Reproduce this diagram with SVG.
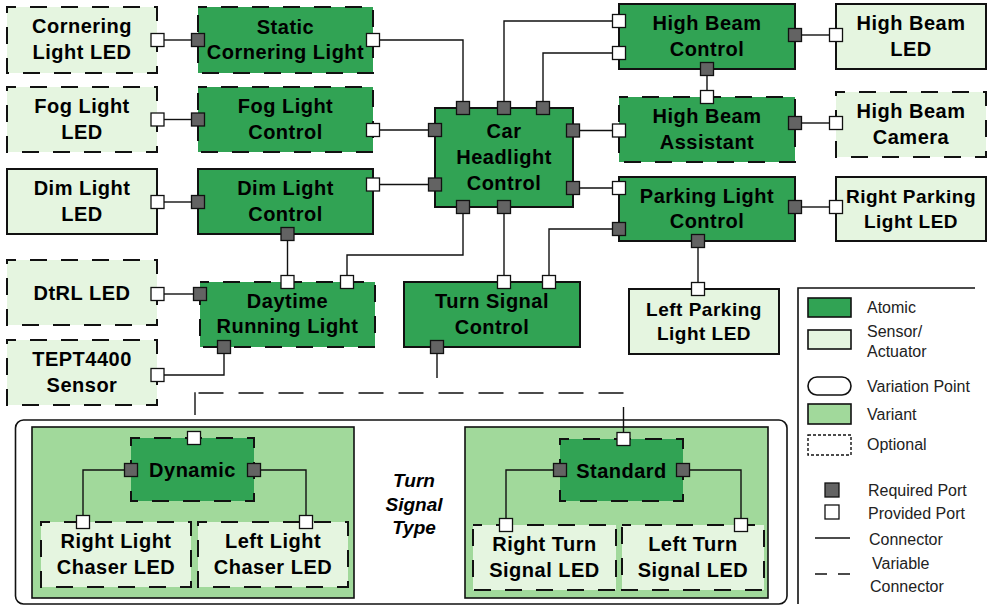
<svg xmlns="http://www.w3.org/2000/svg" width="992" height="614" viewBox="0 0 992 614">
<style>
.atomic{fill:#31a354;stroke:#111;stroke-width:2}
.sensor{fill:#e5f5e0;stroke:#111;stroke-width:2}
.variant{fill:#a1d99b;stroke:#111;stroke-width:1.6}
.dash{stroke-dasharray:17 14;stroke-dashoffset:8}
.req{fill:#636363;stroke:#111;stroke-width:1.3}
.prov{fill:#fff;stroke:#111;stroke-width:1.3}
.conn{fill:none;stroke:#111;stroke-width:1.4}
.vconn{fill:none;stroke:#111;stroke-width:1.4;stroke-dasharray:25 15}
.t{font-family:"Liberation Sans",Arial,sans-serif;font-weight:bold;font-size:20px;fill:#000;text-anchor:middle;letter-spacing:0.5px}
.ti{font-family:"Liberation Sans",Arial,sans-serif;font-weight:bold;font-style:italic;font-size:19px;fill:#000;text-anchor:middle}
.lg{font-family:"Liberation Sans",Arial,sans-serif;font-size:16px;fill:#222}
</style>
<defs>
<rect id="rp" class="req" x="-6.5" y="-6.5" width="13" height="13"/>
<rect id="pp" class="prov" x="-6.5" y="-6.5" width="13" height="13"/>
</defs>
<rect width="992" height="614" fill="#fff"/>

<!-- Variation point container -->
<g id="turn-signal-type">
<rect x="15.5" y="420" width="771.5" height="184" rx="8" fill="#fff" stroke="#111" stroke-width="1.6"/>
<rect id="variant-dynamic" class="variant" x="32" y="427" width="322" height="171"/>
<rect id="variant-standard" class="variant" x="465" y="427" width="303" height="171"/>
<text class="ti"><tspan x="414" y="487">Turn</tspan><tspan x="414" y="511">Signal</tspan><tspan x="414" y="534">Type</tspan></text>
</g>

<g id="connectors">
<path class="conn" d="M164 40H192"/>
<path class="conn" d="M380 40H463V101"/>
<path class="conn" d="M164 119.5H192"/>
<path class="conn" d="M380 130H428"/>
<path class="conn" d="M380 184.5H428"/>
<path class="conn" d="M164 202H192"/>
<path class="conn" d="M287.5 240.5V275.5"/>
<path class="conn" d="M463 213.5V255H347V275.5"/>
<path class="conn" d="M504 213.5V275.5"/>
<path class="conn" d="M612.5 229H549V275.5"/>
<path class="conn" d="M504 101.5V21H612.5"/>
<path class="conn" d="M543 101.5V53H612.5"/>
<path class="conn" d="M707 75.5V90.5"/>
<path class="conn" d="M579.5 130.5H612.5"/>
<path class="conn" d="M579.5 188H612.5"/>
<path class="conn" d="M801.5 35H829.5"/>
<path class="conn" d="M801.5 123H829.5"/>
<path class="conn" d="M801.5 207H829.5"/>
<path class="conn" d="M698 247.5V282.5"/>
<path class="conn" d="M164 294H193.5"/>
<path class="conn" d="M164 375H224V353.5"/>
<path class="conn" d="M437 353.5V378"/>
<path class="vconn" d="M623.5 393H195"/>
<path class="conn" d="M195 392.3V415"/>
<path class="conn" d="M623.5 407V432.5"/>
<path class="conn" d="M124.5 470H83V515.5"/>
<path class="conn" d="M260.5 470H306V515.5"/>
<path class="conn" d="M553.5 470H506V518.5"/>
<path class="conn" d="M689.5 470H741V518.5"/>
</g>

<g id="cornering-light-led">
<rect class="sensor dash" x="7" y="7" width="150" height="66"/>
<text class="t"><tspan x="82" y="33">Cornering</tspan><tspan x="82" y="59">Light LED</tspan></text>
<use href="#pp" x="157.5" y="40"/>
</g>
<g id="static-cornering-light">
<rect class="atomic dash" x="198" y="7" width="175" height="66"/>
<text class="t"><tspan x="285.5" y="34">Static</tspan><tspan x="285.5" y="59">Cornering Light</tspan></text>
<use href="#rp" x="198" y="40"/>
<use href="#pp" x="373" y="40"/>
</g>
<g id="fog-light-led">
<rect class="sensor dash" x="7" y="87" width="150" height="65"/>
<text class="t"><tspan x="82" y="113">Fog Light</tspan><tspan x="82" y="139">LED</tspan></text>
<use href="#pp" x="157.5" y="119.5"/>
</g>
<g id="fog-light-control">
<rect class="atomic dash" x="198" y="87" width="175" height="65"/>
<text class="t"><tspan x="285.5" y="113">Fog Light</tspan><tspan x="285.5" y="139">Control</tspan></text>
<use href="#rp" x="198" y="119.5"/>
<use href="#pp" x="373" y="130"/>
</g>
<g id="dim-light-led">
<rect class="sensor" x="7" y="169" width="150" height="65"/>
<text class="t"><tspan x="82" y="195">Dim Light</tspan><tspan x="82" y="221">LED</tspan></text>
<use href="#pp" x="157.5" y="202"/>
</g>
<g id="dim-light-control">
<rect class="atomic" x="198" y="169" width="175" height="65"/>
<text class="t"><tspan x="285.5" y="195">Dim Light</tspan><tspan x="285.5" y="221">Control</tspan></text>
<use href="#rp" x="198" y="202"/>
<use href="#pp" x="373" y="184.5"/>
<use href="#rp" x="287.5" y="234"/>
</g>
<g id="car-headlight-control">
<rect class="atomic" x="435" y="108" width="138" height="99"/>
<text class="t"><tspan x="504" y="138">Car</tspan><tspan x="504" y="164">Headlight</tspan><tspan x="504" y="190">Control</tspan></text>
<use href="#rp" x="463" y="108"/>
<use href="#rp" x="504" y="108"/>
<use href="#rp" x="543" y="108"/>
<use href="#rp" x="435" y="130"/>
<use href="#rp" x="435" y="184.5"/>
<use href="#rp" x="573" y="130.5"/>
<use href="#rp" x="573" y="188"/>
<use href="#rp" x="463" y="207"/>
<use href="#rp" x="504" y="207"/>
</g>
<g id="high-beam-control">
<rect class="atomic" x="619" y="4" width="176" height="65"/>
<text class="t"><tspan x="707" y="30">High Beam</tspan><tspan x="707" y="56">Control</tspan></text>
<use href="#pp" x="619" y="21"/>
<use href="#pp" x="619" y="53"/>
<use href="#rp" x="707" y="69"/>
<use href="#rp" x="795" y="35"/>
</g>
<g id="high-beam-led">
<rect class="sensor" x="836" y="4" width="150" height="65"/>
<text class="t"><tspan x="911" y="30">High Beam</tspan><tspan x="911" y="56">LED</tspan></text>
<use href="#pp" x="836" y="35"/>
</g>
<g id="high-beam-assistant">
<rect class="atomic dash" x="619" y="97" width="176" height="65"/>
<text class="t"><tspan x="707" y="123">High Beam</tspan><tspan x="707" y="149">Assistant</tspan></text>
<use href="#pp" x="707" y="97"/>
<use href="#pp" x="619" y="130.5"/>
<use href="#rp" x="795" y="123"/>
</g>
<g id="high-beam-camera">
<rect class="sensor dash" x="836" y="92" width="150" height="65"/>
<text class="t"><tspan x="911" y="118">High Beam</tspan><tspan x="911" y="144">Camera</tspan></text>
<use href="#pp" x="836" y="123"/>
</g>
<g id="parking-light-control">
<rect class="atomic" x="619" y="177" width="176" height="64"/>
<text class="t"><tspan x="707" y="203">Parking Light</tspan><tspan x="707" y="228">Control</tspan></text>
<use href="#pp" x="619" y="188"/>
<use href="#rp" x="619" y="229"/>
<use href="#rp" x="698" y="241"/>
<use href="#rp" x="795" y="207"/>
</g>
<g id="right-parking-light-led">
<rect class="sensor" x="836" y="177" width="150" height="64"/>
<text class="t" style="font-size:19px"><tspan x="911" y="203">Right Parking</tspan><tspan x="911" y="228">Light LED</tspan></text>
<use href="#pp" x="836" y="207"/>
</g>
<g id="left-parking-light-led">
<rect class="sensor" x="629" y="289" width="150" height="65"/>
<text class="t" style="font-size:19px"><tspan x="704" y="316">Left Parking</tspan><tspan x="704" y="340">Light LED</tspan></text>
<use href="#pp" x="698" y="289"/>
</g>
<g id="turn-signal-control">
<rect class="atomic" x="404" y="282" width="176" height="65"/>
<text class="t"><tspan x="492" y="308">Turn Signal</tspan><tspan x="492" y="334">Control</tspan></text>
<use href="#pp" x="504" y="282"/>
<use href="#pp" x="549" y="282"/>
<use href="#rp" x="437" y="347"/>
</g>
<g id="daytime-running-light">
<rect class="atomic dash" x="200" y="282" width="175" height="65"/>
<text class="t"><tspan x="287.5" y="308">Daytime</tspan><tspan x="287.5" y="333">Running Light</tspan></text>
<use href="#pp" x="287.5" y="282"/>
<use href="#pp" x="347" y="282"/>
<use href="#rp" x="200" y="294"/>
<use href="#rp" x="224" y="347"/>
</g>
<g id="dtrl-led">
<rect class="sensor dash" x="7" y="260" width="150" height="65"/>
<text class="t" x="82" y="300">DtRL LED</text>
<use href="#pp" x="157.5" y="294"/>
</g>
<g id="tept4400-sensor">
<rect class="sensor dash" x="7" y="340" width="150" height="65"/>
<text class="t"><tspan x="82" y="366">TEPT4400</tspan><tspan x="82" y="392">Sensor</tspan></text>
<use href="#pp" x="157.5" y="375"/>
</g>
<g id="dynamic">
<rect class="atomic dash" x="131" y="438" width="123" height="63"/>
<text class="t" x="192.5" y="477">Dynamic</text>
<use href="#pp" x="194" y="438"/>
<use href="#rp" x="131" y="470"/>
<use href="#rp" x="254" y="470"/>
</g>
<g id="right-light-chaser-led">
<rect class="sensor dash" x="41" y="522" width="150" height="65"/>
<text class="t"><tspan x="116" y="548">Right Light</tspan><tspan x="116" y="574">Chaser LED</tspan></text>
<use href="#pp" x="83" y="522"/>
</g>
<g id="left-light-chaser-led">
<rect class="sensor dash" x="198" y="522" width="150" height="65"/>
<text class="t"><tspan x="273" y="548">Left Light</tspan><tspan x="273" y="574">Chaser LED</tspan></text>
<use href="#pp" x="306" y="522"/>
</g>
<g id="standard">
<rect class="atomic dash" x="560" y="439" width="123" height="62"/>
<text class="t" x="621.5" y="478">Standard</text>
<use href="#pp" x="623.5" y="439"/>
<use href="#rp" x="560" y="470"/>
<use href="#rp" x="683" y="470"/>
</g>
<g id="right-turn-signal-led">
<rect class="sensor dash" x="473" y="525" width="143" height="65"/>
<text class="t"><tspan x="544.5" y="551">Right Turn</tspan><tspan x="544.5" y="577">Signal LED</tspan></text>
<use href="#pp" x="506" y="525"/>
</g>
<g id="left-turn-signal-led">
<rect class="sensor dash" x="622" y="525" width="142" height="65"/>
<text class="t"><tspan x="693" y="551">Left Turn</tspan><tspan x="693" y="577">Signal LED</tspan></text>
<use href="#pp" x="741" y="525"/>
</g>

<g id="legend">
<path d="M798 604V288H975" fill="none" stroke="#111" stroke-width="1.6"/>
<rect class="atomic" style="stroke-width:1.6" x="808" y="298" width="43" height="19"/>
<text class="lg" x="867" y="313">Atomic</text>
<rect class="sensor" style="stroke-width:1.6" x="808" y="330" width="43" height="19"/>
<text class="lg"><tspan x="867" y="337">Sensor/</tspan><tspan x="867" y="357">Actuator</tspan></text>
<rect x="808" y="377" width="43" height="18" rx="9" fill="#fff" stroke="#111" stroke-width="1.6"/>
<text class="lg" x="867" y="392">Variation Point</text>
<rect class="variant" x="808" y="404" width="43" height="20"/>
<text class="lg" x="867" y="420">Variant</text>
<rect x="808" y="435" width="43" height="20" fill="#fff" stroke="#111" stroke-width="1.4" stroke-dasharray="3 2"/>
<text class="lg" x="867" y="450">Optional</text>
<rect class="req" x="825" y="483" width="14" height="14"/>
<text class="lg" x="868" y="496">Required Port</text>
<rect class="prov" x="825" y="505" width="14" height="14"/>
<text class="lg" x="868" y="519">Provided Port</text>
<path class="conn" d="M815 538H850"/>
<text class="lg" x="869" y="545">Connector</text>
<path class="conn" d="M815 574H827M838 574H850"/>
<text class="lg"><tspan x="872" y="569">Variable</tspan><tspan x="870" y="592">Connector</tspan></text>
</g>
</svg>
